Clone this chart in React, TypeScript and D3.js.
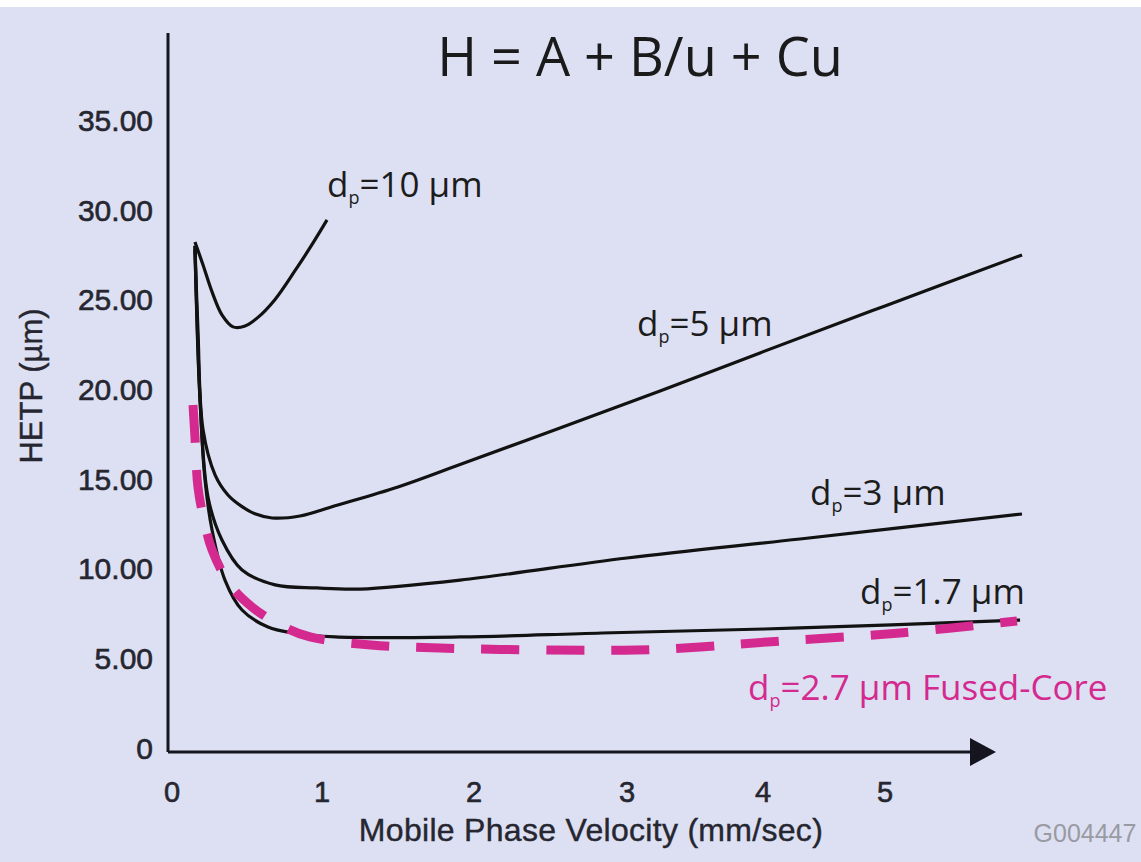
import React from 'react';
import * as d3 from 'd3';

// ---- data (u = mobile phase velocity mm/sec, H = HETP µm) ----
const xTickValues = [0, 1, 2, 3, 4, 5];
const yTickValues = [0, 5, 10, 15, 20, 25, 30, 35];
const yTickLabels = ['0', '5.00', '10.00', '15.00', '20.00', '25.00', '30.00', '35.00'];

const dp10: [number, number][] = [
  [0.153, 28.2], [0.207, 26.92], [0.267, 25.42], [0.333, 24.14], [0.407, 23.47],
  [0.487, 23.52], [0.573, 24.0], [0.687, 25.0], [0.82, 26.6], [0.933, 28.05], [1.033, 29.43],
];
const dp5: [number, number][] = [
  [0.153, 27.98], [0.173, 23.3], [0.207, 17.73], [0.287, 15.22], [0.373, 14.1], [0.467, 13.45],
  [0.553, 13.05], [0.667, 12.82], [0.853, 12.93], [1.086, 13.5], [1.5, 14.55], [1.908, 15.8],
  [2.562, 17.84], [3.243, 19.89], [3.978, 22.02], [5.0, 24.64], [6.123, 27.48],
];
const dp3: [number, number][] = [
  [0.153, 28.0], [0.187, 19.4], [0.24, 13.99], [0.333, 11.59], [0.467, 9.92], [0.687, 9.09],
  [0.967, 8.92], [1.25, 8.86], [1.908, 9.36], [3.0, 10.59], [4.303, 11.65], [6.123, 13.04],
];
const dp17: [number, number][] = [
  [0.153, 27.76], [0.187, 19.4], [0.22, 14.94], [0.267, 12.15], [0.353, 9.36], [0.467, 7.69],
  [0.64, 6.74], [0.807, 6.41], [1.086, 6.19], [1.908, 6.19], [2.837, 6.41], [4.303, 6.69], [6.107, 7.13],
];
const fusedCore: [number, number][] = [
  [0.14, 19.12], [0.153, 17.34], [0.173, 14.55], [0.213, 12.71], [0.267, 11.04], [0.387, 9.09],
  [0.533, 7.86], [0.72, 6.86], [0.92, 6.19], [1.322, 5.74], [1.776, 5.57], [2.497, 5.46],
  [3.066, 5.46], [3.537, 5.63], [4.033, 5.91], [5.123, 6.41], [6.082, 7.08],
];

// label anchors in data units (left, baseline)
const curveLabels = [
  { pre: 'd', sub: 'p', post: '=10 µm', u: 1.033, h: 30.71, color: '#1c1c1c' },
  { pre: 'd', sub: 'p', post: '=5 µm', u: 3.074, h: 22.97, color: '#1c1c1c' },
  { pre: 'd', sub: 'p', post: '=3 µm', u: 4.385, h: 13.55, color: '#1c1c1c' },
  { pre: 'd', sub: 'p', post: '=1.7 µm', u: 4.795, h: 8.03, color: '#1c1c1c' },
  { pre: 'd', sub: 'p', post: '=2.7 µm Fused-Core', u: 3.89, h: 2.68, color: '#d42a8f' },
];

const W = 1141;
const H = 862;

export default function App() {
  const x = d3.scaleLinear().domain([0, 1, 2, 3, 4, 5, 6]).range([172, 322, 474, 627, 763, 885, 1007]);
  const y = d3.scaleLinear().domain([0, 35]).range([748, 120]);
  const line = d3
    .line<[number, number]>()
    .x((d) => x(d[0]))
    .y((d) => y(d[1]))
    .curve(d3.curveCatmullRom.alpha(0.5));

  const axisX0 = 168;
  const axisY0 = 752;
  const tickFont = "'Liberation Sans', Arial, sans-serif";
  const labelFont = "'Open Sans', 'Noto Sans', sans-serif";
  const textColor = '#262630';

  return (
    <div style={{ position: 'absolute', left: 0, top: 0 }}>
      <svg width={W} height={H} style={{ display: 'block' }}>
        <rect x={0} y={0} width={W} height={H} fill="#dce0f2" />
        <rect x={0} y={0} width={W} height={7} fill="#ffffff" />

        {/* title */}
        <text x={640} y={76} textAnchor="middle" fontFamily={labelFont} fontSize={54} fill="#1a1a1a">
          H = A + B/u + Cu
        </text>

        {/* axes */}
        <line x1={axisX0} y1={33} x2={axisX0} y2={axisY0} stroke="#15151f" strokeWidth={3} />
        <line x1={axisX0} y1={axisY0} x2={975} y2={axisY0} stroke="#15151f" strokeWidth={3} />
        <path d={`M970,${axisY0 - 14} L996,${axisY0} L970,${axisY0 + 14} Z`} fill="#15151f" />

        {/* y ticks */}
        {yTickValues.map((v, i) => (
          <text key={v} x={153} y={y(v)} dy="0.36em" textAnchor="end" fontFamily={tickFont} fontSize={30}
            fill={textColor} stroke={textColor} strokeWidth={0.6}>
            {yTickLabels[i]}
          </text>
        ))}
        {/* x ticks */}
        {xTickValues.map((v) => (
          <text key={v} x={x(v)} y={802} textAnchor="middle" fontFamily={tickFont} fontSize={29}
            fill={textColor} stroke={textColor} strokeWidth={0.6}>
            {v}
          </text>
        ))}

        <text x={591} y={841} textAnchor="middle" fontFamily={tickFont} fontSize={32} fill={textColor}
          stroke={textColor} strokeWidth={0.4} letterSpacing={0.3}>
          Mobile Phase Velocity (mm/sec)
        </text>
        <text
          transform={`translate(42,386) rotate(-90)`}
          textAnchor="middle"
          fontFamily={tickFont}
          fontSize={31}
          fill={textColor}
          stroke={textColor}
          strokeWidth={0.4}
        >
          HETP (µm)
        </text>
        <text x={1085} y={842} textAnchor="middle" fontFamily={tickFont} fontSize={25} fill="#9a9aa2">
          G004447
        </text>

        {/* curves */}
        {[dp10, dp5, dp3, dp17].map((s, i) => (
          <path key={i} d={line(s) || ''} fill="none" stroke="#121212" strokeWidth={3.2} strokeLinejoin="round" />
        ))}
        <path
          d={line(fusedCore) || ''}
          fill="none"
          stroke="#d42a8f"
          strokeWidth={9}
          strokeDasharray="38 27"
        />

        {/* curve labels */}
        {curveLabels.map((l, i) => (
          <text key={i} x={x(l.u)} y={y(l.h)} fontFamily={labelFont} fontSize={35} fill={l.color}>
            {l.pre}
            <tspan fontSize={18} dy={7}>{l.sub}</tspan>
            <tspan dy={-7}>{l.post}</tspan>
          </text>
        ))}
      </svg>
    </div>
  );
}
